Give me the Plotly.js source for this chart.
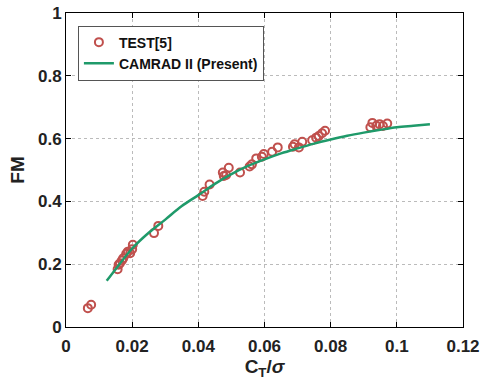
<!DOCTYPE html>
<html><head><meta charset="utf-8">
<script src="https://cdn.plot.ly/plotly-3.0.1.min.js"></script>
<style>html,body{margin:0;padding:0;background:#fff}</style>
</head><body><div id="chart" style="width:483px;height:384px"></div>
<script>
var testX = [0.0066,0.0076,0.0156,0.0159,0.0163,0.0169,0.0173,0.0182,0.0187,0.0194,0.0200,0.0202,0.0266,0.0279,0.0413,0.0418,0.0434,0.0474,0.0477,0.0484,0.0492,0.0526,0.0555,0.0562,0.0575,0.0592,0.0598,0.0623,0.0640,0.0686,0.0691,0.0704,0.0714,0.0744,0.0756,0.0764,0.0774,0.0783,0.0920,0.0926,0.0938,0.0948,0.0958,0.0971];
var testY = [0.060,0.071,0.184,0.198,0.203,0.212,0.219,0.233,0.240,0.235,0.248,0.262,0.299,0.322,0.417,0.431,0.454,0.492,0.481,0.484,0.507,0.492,0.511,0.518,0.537,0.542,0.551,0.558,0.572,0.574,0.582,0.572,0.590,0.595,0.603,0.608,0.617,0.625,0.636,0.650,0.641,0.646,0.640,0.648];
var camX = [0.0123,0.015,0.02,0.025,0.03,0.035,0.04,0.045,0.05,0.055,0.06,0.065,0.07,0.075,0.08,0.085,0.09,0.095,0.1,0.105,0.11];
var camY = [0.147,0.184,0.250,0.300,0.342,0.385,0.420,0.456,0.487,0.513,0.534,0.553,0.569,0.584,0.597,0.609,0.619,0.628,0.636,0.641,0.646];
var xTicks = [0,0.02,0.04,0.06,0.08,0.1,0.12];
var xTickText = ['0','0.02','0.04','0.06','0.08','0.1','0.12'];
var yTicks = [0,0.2,0.4,0.6,0.8,1];
var yTickText = ['0','0.2','0.4','0.6','0.8','1'];

var fam = 'Liberation Sans, Arial, sans-serif';
var font = {family:fam, size:17, color:'#222', weight:'bold'};
var traces = [
  {x:testX, y:testY, mode:'markers', type:'scatter', name:'TEST[5]',
   marker:{symbol:'circle-open', size:8, color:'#c0504d', line:{width:2, color:'#c0504d'}}},
  {x:camX, y:camY, mode:'lines', type:'scatter', name:'CAMRAD II (Present)', line:{color:'#1f9a6a', width:2.5, shape:'spline'}}
];
var axisCommon = {showline:true, linecolor:'#000', linewidth:1, mirror:'ticks', ticks:'inside', ticklen:5, tickcolor:'#000',
  showgrid:true, gridcolor:'#bbb', griddash:'dot', gridwidth:1, zeroline:false, tickfont:font};
var layout = {
  width:483, height:384, margin:{l:66, r:20, t:13, b:57},
  paper_bgcolor:'#fff', plot_bgcolor:'#fff', font:font,
  xaxis:Object.assign({}, axisCommon, {range:[0,0.12], tickvals:xTicks, ticktext:xTickText, ticklabelstandoff:4,
    title:{text:'<b>C<sub>T</sub>/</b><i>σ</i>', font:{family:fam, size:19, color:'#222'}, standoff:4}}),
  yaxis:Object.assign({}, axisCommon, {range:[0,1], tickvals:yTicks, ticktext:yTickText,
    title:{text:'<b>FM</b>', font:{family:fam, size:19, color:'#222'}, standoff:8}}),
  showlegend:true,
  legend:{x:0.03, y:0.96, xanchor:'left', yanchor:'top', bgcolor:'#fff', bordercolor:'#555', borderwidth:1,
    font:{family:fam, size:14, color:'#111', weight:'bold'}, tracegroupgap:0}
};
Plotly.newPlot('chart', traces, layout, {displayModeBar:false, staticPlot:true});
</script></body></html>
